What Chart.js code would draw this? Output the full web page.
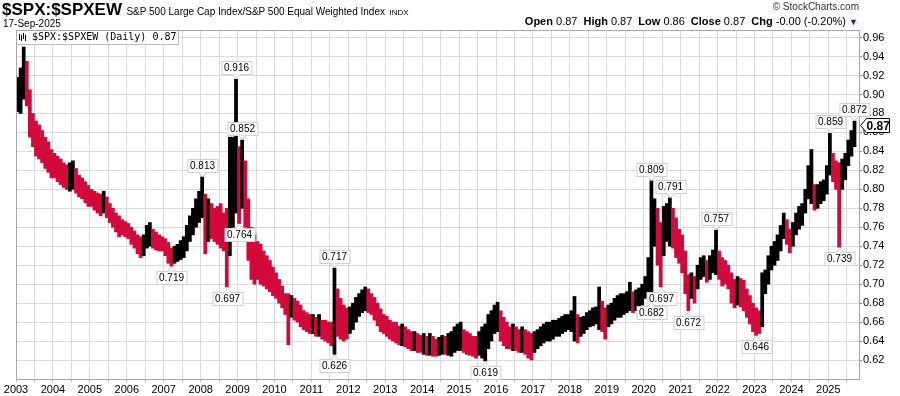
<!DOCTYPE html>
<html>
<head>
<meta charset="utf-8">
<script src="https://cdn.jsdelivr.net/npm/chart.js@4.4.1/dist/chart.umd.min.js"></script>
<style>
  body { margin: 0; background: #fff; }
  #wrap { position: relative; width: 900px; height: 396px; font-family: "Liberation Sans", Arial, sans-serif; color: #000; }
  #c { position: absolute; left: 0; top: 0; }
  .hdr { position: absolute; white-space: nowrap; line-height: 1; }
  .sym { font-weight: bold; font-size: 17px; }
  .sub { font-size: 10px; }
  .ex { font-size: 8px; }
  .qv { font-size: 11px; }
  .qv b { font-weight: bold; }
  .qv span { margin-left: 6px; }
</style>
</head>
<body>
<div id="wrap">
  <canvas id="c" width="900" height="396"></canvas>
  <div class="hdr" style="left:2px;top:1px"><span class="sym">$SPX:$SPXEW</span> <span class="sub">S&amp;P 500 Large Cap Index/S&amp;P 500 Equal Weighted Index</span> <span class="ex">INDX</span></div>
  <div class="hdr sub" style="left:3px;top:19px">17-Sep-2025</div>
  <div class="hdr sub" style="right:41px;top:2px;color:#333">&copy; StockCharts.com</div>
  <div class="hdr qv" style="right:42px;top:16px"><b>Open</b> 0.87<span><b>High</b> 0.87</span><span><b>Low</b> 0.86</span><span><b>Close</b> 0.87</span><span><b>Chg</b> -0.00 (-0.20%) <span style="margin-left:0;color:#8b0020;font-size:9px">&#9660;</span></span></div>
</div>
<script>
// tick labels
const yearTicks = [2003, 2004, 2005, 2006, 2007, 2008, 2009, 2010, 2011, 2012, 2013, 2014,
                   2015, 2016, 2017, 2018, 2019, 2020, 2021, 2022, 2023, 2024, 2025];
const yTicks = [0.62, 0.64, 0.66, 0.68, 0.70, 0.72, 0.74, 0.76, 0.78, 0.80, 0.82, 0.84,
                0.86, 0.88, 0.90, 0.92, 0.94, 0.96];

// monthly low / high of the ratio, Jan 2003 .. Sep 2025
const lowVals = [
  0.882,0.880,0.895,0.888,0.855,0.845,0.835,0.832,0.828,0.822,0.818,0.812, // 2003
  0.812,0.808,0.805,0.802,0.800,0.798,0.800,0.796,0.792,0.790,0.786,0.782, // 2004
  0.782,0.778,0.775,0.772,0.775,0.770,0.765,0.760,0.755,0.750,0.752,0.750, // 2005
  0.748,0.742,0.738,0.732,0.728,0.730,0.738,0.740,0.738,0.736,0.735,0.735, // 2006
  0.730,0.722,0.719,0.722,0.724,0.726,0.728,0.735,0.745,0.752,0.760,0.765, // 2007
  0.770,0.732,0.745,0.748,0.745,0.742,0.738,0.735,0.697,0.730,0.760,0.775, // 2008
  0.764,0.780,0.760,0.725,0.705,0.700,0.705,0.700,0.698,0.695,0.692,0.688, // 2009
  0.685,0.680,0.675,0.668,0.636,0.665,0.662,0.660,0.655,0.652,0.650,0.648, // 2010
  0.648,0.645,0.645,0.642,0.640,0.638,0.635,0.626,0.645,0.642,0.640,0.642, // 2011
  0.648,0.652,0.660,0.666,0.670,0.672,0.670,0.668,0.662,0.656,0.650,0.648, // 2012
  0.645,0.642,0.640,0.638,0.636,0.635,0.634,0.632,0.630,0.630,0.628,0.628, // 2013
  0.626,0.625,0.625,0.624,0.624,0.625,0.626,0.626,0.625,0.624,0.628,0.630, // 2014
  0.630,0.628,0.626,0.625,0.624,0.622,0.625,0.622,0.619,0.632,0.640,0.648, // 2015
  0.650,0.640,0.635,0.632,0.632,0.630,0.630,0.628,0.628,0.626,0.622,0.620, // 2016
  0.628,0.632,0.635,0.638,0.640,0.640,0.642,0.645,0.645,0.648,0.650,0.652, // 2017
  0.650,0.640,0.638,0.645,0.648,0.652,0.655,0.656,0.658,0.652,0.650,0.642, // 2018
  0.655,0.658,0.662,0.665,0.665,0.668,0.670,0.672,0.670,0.672,0.675,0.678, // 2019
  0.685,0.690,0.682,0.740,0.720,0.697,0.730,0.745,0.740,0.738,0.728,0.722, // 2020
  0.712,0.690,0.672,0.685,0.680,0.695,0.705,0.708,0.702,0.705,0.712,0.710, // 2021
  0.705,0.698,0.700,0.695,0.680,0.675,0.678,0.676,0.672,0.665,0.658,0.650, // 2022
  0.646,0.648,0.655,0.690,0.700,0.715,0.720,0.725,0.735,0.748,0.742,0.733, // 2023
  0.740,0.752,0.758,0.762,0.775,0.790,0.785,0.778,0.780,0.785,0.788,0.795, // 2024
  0.815,0.808,0.800,0.739,0.800,0.810,0.825,0.835,0.845                    // 2025
];
const highVals = [
  0.918,0.928,0.950,0.935,0.905,0.880,0.872,0.868,0.862,0.855,0.850,0.842, // 2003
  0.838,0.835,0.832,0.828,0.826,0.828,0.830,0.822,0.815,0.812,0.808,0.804, // 2004
  0.800,0.798,0.796,0.795,0.798,0.792,0.785,0.780,0.775,0.772,0.768,0.766, // 2005
  0.764,0.760,0.756,0.752,0.750,0.752,0.762,0.765,0.758,0.755,0.752,0.750, // 2006
  0.748,0.744,0.738,0.740,0.742,0.746,0.750,0.762,0.772,0.780,0.790,0.798, // 2007
  0.813,0.795,0.790,0.785,0.780,0.782,0.785,0.775,0.780,0.855,0.855,0.916, // 2008
  0.845,0.852,0.830,0.790,0.760,0.752,0.745,0.742,0.735,0.730,0.725,0.718, // 2009
  0.712,0.705,0.698,0.690,0.690,0.688,0.685,0.682,0.678,0.672,0.670,0.668, // 2010
  0.668,0.665,0.668,0.662,0.662,0.660,0.660,0.717,0.695,0.685,0.678,0.675, // 2011
  0.676,0.680,0.686,0.690,0.694,0.697,0.695,0.690,0.686,0.680,0.674,0.668, // 2012
  0.666,0.662,0.660,0.660,0.656,0.658,0.655,0.652,0.650,0.650,0.648,0.646, // 2013
  0.648,0.645,0.648,0.645,0.642,0.644,0.646,0.645,0.648,0.650,0.655,0.658, // 2014
  0.660,0.652,0.650,0.648,0.645,0.645,0.650,0.655,0.658,0.668,0.672,0.678, // 2015
  0.681,0.672,0.665,0.660,0.655,0.658,0.655,0.652,0.655,0.652,0.650,0.648, // 2016
  0.650,0.652,0.655,0.658,0.660,0.660,0.662,0.662,0.664,0.666,0.668,0.668, // 2017
  0.672,0.687,0.668,0.665,0.666,0.670,0.672,0.675,0.676,0.697,0.682,0.675, // 2018
  0.678,0.680,0.685,0.688,0.690,0.690,0.692,0.702,0.692,0.694,0.696,0.700, // 2019
  0.708,0.728,0.809,0.790,0.780,0.765,0.782,0.785,0.791,0.780,0.770,0.758, // 2020
  0.752,0.735,0.710,0.712,0.708,0.720,0.728,0.730,0.725,0.730,0.736,0.757, // 2021
  0.735,0.728,0.725,0.720,0.712,0.705,0.708,0.706,0.704,0.695,0.688,0.680, // 2022
  0.675,0.672,0.712,0.715,0.730,0.740,0.745,0.752,0.762,0.775,0.768,0.758, // 2023
  0.765,0.775,0.782,0.785,0.800,0.825,0.842,0.805,0.805,0.808,0.810,0.825, // 2024
  0.859,0.838,0.830,0.828,0.832,0.838,0.852,0.862,0.872                    // 2025
];

// value flags on the chart
const annoX    = [2008.958, 2009.125, 2008.042, 2009.042, 2007.208, 2008.708, 2011.625, 2011.625, 2015.708,
                  2020.208, 2020.708, 2020.458, 2020.208, 2021.208, 2021.958, 2023.042, 2025.042, 2025.292, 2025.708];
const annoVal  = [0.916, 0.852, 0.813, 0.764, 0.719, 0.697, 0.717, 0.626, 0.619,
                  0.809, 0.791, 0.697, 0.682, 0.672, 0.757, 0.646, 0.859, 0.739, 0.872];
const annoSide = ['up', 'up', 'up', 'dn', 'dn', 'dn', 'up', 'dn', 'dn',
                  'up', 'up', 'dn', 'dn', 'dn', 'up', 'dn', 'up', 'dn', 'up'];
const lastClose = 0.868;

const RED = '#d20a3c';
let points = [];
let barColors = [];
for (let i = 0; i < lowVals.length; i++) {
    points.push({ x: 2003 + (i + 0.5) / 12, y: [lowVals[i], highVals[i]] });
    let mid = (lowVals[i] + highVals[i]) / 2;
    let prev = i > 0 ? (lowVals[i - 1] + highVals[i - 1]) / 2 : mid;
    barColors.push(mid >= prev ? '#000000' : RED);
}

let xGrid = [];
yearTicks.forEach(v => { xGrid.push(v); xGrid.push(v + 0.5); });

const overlay = {
    id: 'overlay',
    afterDatasetsDraw(chart) {
        const { ctx, chartArea: a, scales: { x, y } } = chart;
        ctx.save();
        // flags
        ctx.font = '10px "Liberation Sans", Arial';
        ctx.textAlign = 'center';
        ctx.textBaseline = 'middle';
        ctx.lineWidth = 1;
        for (let i = 0; i < annoVal.length; i++) {
            let px = Math.round(x.getPixelForValue(annoX[i])) + 0.5;
            let py = y.getPixelForValue(annoVal[i]);
            let txt = annoVal[i].toFixed(3);
            let w = Math.round(ctx.measureText(txt).width) + 5, h = 13;
            let up = annoSide[i] === 'up';
            let top = up ? Math.round(py - 5 - h) + 0.5 : Math.round(py + 5) + 0.5;
            let left = Math.round(px - w / 2);
            ctx.fillStyle = '#fff';
            ctx.strokeStyle = '#cfcfcf';
            ctx.fillRect(left, top, w, h);
            ctx.strokeRect(left, top, w, h);
            let by = up ? top + h : top;
            let ty = up ? by + 4 : by - 4;
            ctx.beginPath();
            ctx.moveTo(px - 4, by); ctx.lineTo(px, ty); ctx.lineTo(px + 4, by);
            ctx.closePath();
            ctx.fill();
            ctx.beginPath();
            ctx.moveTo(px - 4, by); ctx.lineTo(px, ty); ctx.lineTo(px + 4, by);
            ctx.stroke();
            ctx.fillStyle = '#000';
            ctx.fillText(txt, px, top + h / 2 + 0.5);
        }
        // legend box
        ctx.fillStyle = '#fff';
        ctx.fillRect(a.left, a.top, 162, 14);
        ctx.strokeStyle = '#bdbdbd';
        ctx.strokeRect(a.left + 0.5, a.top + 0.5, 162, 14);
        ctx.strokeStyle = '#000';
        ctx.beginPath();
        [[3, 4, 10], [5, 5, 11], [7, 3, 9], [9, 5, 11]].forEach(b => {
            ctx.moveTo(a.left + b[0] + 0.5, a.top + b[1]);
            ctx.lineTo(a.left + b[0] + 0.5, a.top + b[2]);
        });
        ctx.stroke();
        ctx.fillStyle = '#000';
        ctx.textAlign = 'left';
        ctx.font = '10px "DejaVu Sans Mono", monospace';
        ctx.fillText('$SPX:$SPXEW (Daily) 0.87', a.left + 16, a.top + 7.5);
        ctx.restore();
    },
    afterDraw(chart) {
        const { ctx, chartArea: a, scales: { y } } = chart;
        ctx.save();
        ctx.strokeStyle = '#a8a8a8';
        ctx.lineWidth = 1;
        ctx.beginPath();
        ctx.moveTo(a.left + 0.5, a.bottom);
        ctx.lineTo(a.left + 0.5, a.top + 0.5);
        ctx.lineTo(a.right, a.top + 0.5);
        ctx.stroke();
        // last value tag
        let py = Math.round(y.getPixelForValue(lastClose)) + 0.5;
        let x0 = a.right + 1.5;
        ctx.fillStyle = '#fff';
        ctx.strokeStyle = '#000';
        ctx.beginPath();
        ctx.moveTo(x0, py);
        ctx.lineTo(x0 + 6, py - 7);
        ctx.lineTo(x0 + 29, py - 7);
        ctx.lineTo(x0 + 29, py + 7);
        ctx.lineTo(x0 + 6, py + 7);
        ctx.closePath();
        ctx.fill();
        ctx.stroke();
        ctx.fillStyle = '#000';
        ctx.font = 'bold 12px "Liberation Sans", Arial';
        ctx.textAlign = 'left';
        ctx.textBaseline = 'middle';
        ctx.fillText(lastClose.toFixed(2), x0 + 6, py + 1);
        ctx.restore();
    }
};

const tickFont = { family: '"Liberation Sans", Arial, sans-serif', size: 11 };

new Chart(document.getElementById('c'), {
    type: 'bar',
    data: {
        datasets: [{
            data: points,
            backgroundColor: barColors,
            borderWidth: 0,
            barPercentage: 1,
            categoryPercentage: 1
        }]
    },
    options: {
        responsive: false,
        animation: false,
        devicePixelRatio: 1,
        layout: { padding: { left: 16, top: 30, right: 0, bottom: 0 } },
        plugins: { legend: { display: false }, tooltip: { enabled: false } },
        scales: {
            x: {
                type: 'linear',
                min: 2003,
                max: 2025.83,
                offset: false,
                afterBuildTicks: s => { s.ticks = xGrid.map(v => ({ value: v })); },
                afterFit: s => { s.height = 17; },
                ticks: {
                    autoSkip: false,
                    maxRotation: 0,
                    padding: 1,
                    color: '#000',
                    font: tickFont,
                    callback: v => Number.isInteger(v) ? String(v) : ''
                },
                grid: { offset: false, color: '#dadada', tickLength: 3, tickColor: '#bbbbbb' },
                border: { color: '#a8a8a8' }
            },
            y: {
                position: 'right',
                min: 0.6,
                max: 0.968,
                afterBuildTicks: s => { s.ticks = yTicks.map(v => ({ value: v })); },
                afterFit: s => { s.width = 41; },
                ticks: {
                    padding: 1,
                    color: '#000',
                    font: tickFont,
                    callback: v => v.toFixed(2)
                },
                grid: { color: '#dadada', tickLength: 3, tickColor: '#888888' },
                border: { color: '#a8a8a8' }
            }
        }
    },
    plugins: [overlay]
});
</script>
</body>
</html>
